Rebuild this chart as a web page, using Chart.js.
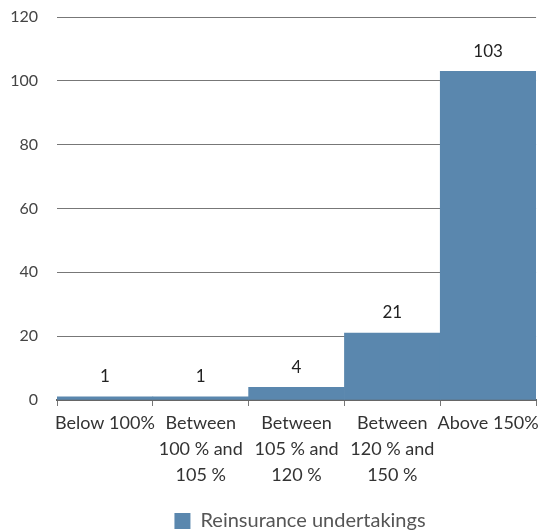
<!DOCTYPE html>
<html><head><meta charset="utf-8">
<script src="https://cdn.jsdelivr.net/npm/chart.js@4/dist/chart.umd.min.js"></script>
<style>html,body{margin:0;padding:0;background:#fff}</style>
</head><body>
<canvas id="c" width="543" height="530"></canvas>
<script>
const categories = [
  ["Below 100%"],
  ["Between", "100 % and", "105 %"],
  ["Between", "105 % and", "120 %"],
  ["Between", "120 % and", "150 %"],
  ["Above 150%"]
];
const seriesName = "Reinsurance undertakings";
const values = [1, 1, 4, 21, 103];
const yMin = 0, yMax = 120, yStep = 20;

const FONT = "Lato, 'Open Sans', sans-serif";
const barColor = "#5a87ae";

const valueLabels = {
  id: "valueLabels",
  afterDatasetsDraw(chart) {
    const ctx = chart.ctx;
    const meta = chart.getDatasetMeta(0);
    const yScale = chart.scales.y;
    ctx.save();
    ctx.font = "17px " + FONT;
    ctx.fillStyle = "#222";
    ctx.textAlign = "center";
    ctx.textBaseline = "middle";
    meta.data.forEach((bar, i) => {
      const v = chart.data.datasets[0].data[i];
      ctx.fillText(String(v), bar.x, yScale.getPixelForValue(v) - 20);
    });
    ctx.restore();
  }
};

const legendShift = {
  id: "legendShift",
  afterLayout(chart) {
    if (chart.legend) chart.legend.left += 50;
  }
};

new Chart(document.getElementById("c"), {
  type: "bar",
  data: {
    labels: categories,
    datasets: [{
      label: seriesName,
      data: values,
      backgroundColor: barColor,
      borderWidth: 0,
      barPercentage: 1,
      categoryPercentage: 1
    }]
  },
  options: {
    responsive: false,
    animation: false,
    layout: { padding: { top: 17, left: 10, right: 3, bottom: -11 } },
    plugins: {
      legend: {
        position: "bottom",
        labels: {
          boxWidth: 16, boxHeight: 16, padding: 4,
          color: "#555",
          font: { family: FONT, size: 20 }
        }
      },
      tooltip: { enabled: false }
    },
    scales: {
      x: {
        z: 1,
        afterFit(scale) { scale.height = 107; },
        grid: { drawOnChartArea: false, drawTicks: true, tickLength: 6, color: "#777", offset: true },
        border: { display: true, color: "#666", width: 2 },
        ticks: {
          color: "#333", padding: 4,
          maxRotation: 0, autoSkip: false,
          font: { family: FONT, size: 18, lineHeight: 1.45 }
        }
      },
      y: {
        min: yMin, max: yMax,
        afterFit(scale) { scale.width = 47; scale.paddingTop = 0; scale.paddingBottom = 0; },
        grid: { color: "#777", drawTicks: false, lineWidth: 1 },
        border: { display: false },
        ticks: {
          stepSize: yStep, padding: 19, color: "#444",
          font: { family: FONT, size: 16 }
        }
      }
    }
  },
  plugins: [valueLabels, legendShift]
});
</script>
</body></html>
